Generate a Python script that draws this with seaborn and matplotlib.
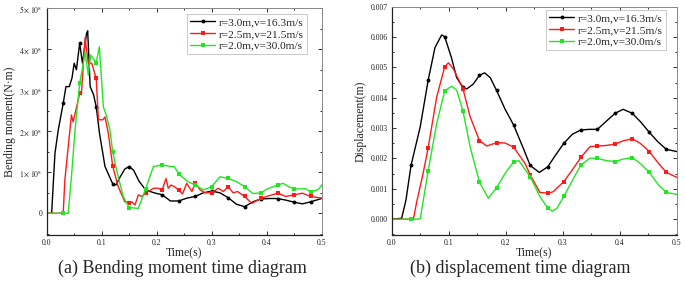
import numpy as np
import pandas as pd
import matplotlib
matplotlib.use("Agg")
import matplotlib.pyplot as plt
from matplotlib.ticker import MultipleLocator, FuncFormatter
import seaborn as sns

# ---------------- data ----------------
LABELS = ["r=3.0m,v=16.3m/s", "r=2.5m,v=21.5m/s", "r=2.0m,v=30.0m/s"]
COLORS = ["#000000", "#ff1a1a", "#22e622"]
MARKERS = ["o", "s", "s"]

# (a) bending moment, units of 1e8 N*m
bm_t_30 = [0, 0.009, 0.015, 0.021, 0.03, 0.035, 0.041, 0.046, 0.05, 0.054,
           0.06, 0.065, 0.0725, 0.0745, 0.079, 0.085, 0.09, 0.096, 0.106, 0.12,
           0.126, 0.132, 0.142, 0.15, 0.158, 0.168, 0.18, 0.195, 0.21, 0.225,
           0.24, 0.255, 0.27, 0.285, 0.30, 0.315, 0.33, 0.345, 0.36, 0.375,
           0.39, 0.405, 0.42, 0.435, 0.45, 0.465, 0.48, 0.5]
bm_v_30 = [0, 0, 1.46, 2.03, 2.68, 3.09, 3.09, 3.3, 3.66, 3.5,
           4.15, 3.66, 4.39, 4.45, 3.09, 2.9, 2.6, 1.95, 1.14, 0.72,
           0.69, 0.85, 1.08, 1.14, 1.05, 0.78, 0.57, 0.5, 0.45, 0.3,
           0.3, 0.37, 0.41, 0.5, 0.54, 0.5, 0.38, 0.22, 0.16, 0.28,
           0.35, 0.36, 0.36, 0.32, 0.27, 0.23, 0.28, 0.36]

bm_t_25 = [0, 0.03, 0.033, 0.041, 0.045, 0.048, 0.0545, 0.06, 0.063, 0.0697,
           0.0757, 0.082, 0.09, 0.094, 0.102, 0.106, 0.112, 0.12, 0.13, 0.142,
           0.15, 0.155, 0.1605, 0.1666, 0.173, 0.18, 0.194, 0.203, 0.21, 0.217,
           0.221, 0.226, 0.232, 0.24, 0.247, 0.2545, 0.264, 0.27, 0.279, 0.288,
           0.30, 0.312, 0.321, 0.33, 0.339, 0.347, 0.36, 0.373, 0.39, 0.40,
           0.42, 0.435, 0.45, 0.465, 0.48, 0.5]
bm_v_25 = [0, 0, 0.81, 1.87, 2.4, 2.23, 2.6, 2.93, 2.89, 4.28,
           3.66, 3.66, 3.29, 2.28, 2.28, 2.35, 1.95, 1.15, 0.65, 0.28,
           0.24, 0.28, 0.2, 0.45, 0.41, 0.49, 0.61, 0.61, 0.57, 0.85,
           0.61, 0.69, 0.65, 0.57, 0.47, 0.73, 0.53, 0.75, 0.57, 0.5,
           0.5, 0.61, 0.53, 0.65, 0.5, 0.53, 0.41, 0.24, 0.37, 0.41,
           0.49, 0.41, 0.45, 0.49, 0.41, 0.37]

bm_t_20 = [0, 0.03, 0.039, 0.045, 0.0515, 0.06, 0.0655, 0.0696, 0.0757, 0.08,
           0.09, 0.0957, 0.103, 0.109, 0.115, 0.12, 0.127, 0.139, 0.15, 0.1666,
           0.18, 0.194, 0.21, 0.225, 0.232, 0.24, 0.257, 0.27, 0.285, 0.30,
           0.315, 0.33, 0.345, 0.36, 0.375, 0.39, 0.40, 0.42, 0.43, 0.44,
           0.45, 0.47, 0.48, 0.494, 0.5]
bm_v_20 = [0, 0, 0, 0.89, 2.03, 3.17, 3.58, 3.94, 3.37, 3.86,
           3.67, 4.06, 2.6, 2.36, 2.03, 1.5, 1.06, 0.41, 0.14, 0.12,
           0.6, 1.14, 1.18, 1.14, 1.14, 0.96, 0.77, 0.69, 0.57, 0.65,
           0.89, 0.85, 0.77, 0.65, 0.48, 0.5, 0.59, 0.69, 0.73, 0.65,
           0.59, 0.6, 0.53, 0.58, 0.69]

bm_marks = [0.03, 0.06, 0.09, 0.12, 0.15, 0.18, 0.21, 0.24,
            0.27, 0.30, 0.33, 0.36, 0.39, 0.42, 0.45, 0.48]

# (b) displacement, units of 1e-3 m
d_t_30 = [0, 0.0175, 0.025, 0.034, 0.05, 0.064, 0.076, 0.0877, 0.093, 0.105,
          0.114, 0.125, 0.1316, 0.143, 0.154, 0.163, 0.173, 0.184, 0.199, 0.214,
          0.231, 0.243, 0.259, 0.274, 0.287, 0.302, 0.317, 0.332, 0.347, 0.361,
          0.376, 0.392, 0.406, 0.422, 0.437, 0.452, 0.467, 0.482, 0.5]
d_v_30 = [0, 0.03, 0.63, 1.78, 3.04, 4.58, 5.66, 6.07, 6.01, 5.31,
          4.66, 4.35, 4.29, 4.45, 4.74, 4.82, 4.66, 4.24, 3.62, 3.10,
          2.33, 1.77, 1.54, 1.73, 2.10, 2.5, 2.8, 2.94, 2.96, 2.96,
          3.22, 3.49, 3.62, 3.49, 3.2, 2.86, 2.55, 2.3, 2.23]

d_t_25 = [0, 0.034, 0.038, 0.044, 0.055, 0.064, 0.079, 0.093, 0.0994, 0.108,
          0.125, 0.1375, 0.154, 0.1667, 0.184, 0.199, 0.214, 0.2339, 0.243, 0.26,
          0.274, 0.283, 0.302, 0.319, 0.332, 0.348, 0.361, 0.377, 0.392, 0.406,
          0.422, 0.436, 0.452, 0.468, 0.482, 0.5]
d_v_25 = [0, 0, 0, 0.58, 1.5, 2.36, 4.03, 5.02, 5.15, 4.96,
          4.3, 3.38, 2.59, 2.41, 2.52, 2.51, 2.37, 1.84, 1.46, 0.88,
          0.86, 0.9, 1.24, 1.68, 2.04, 2.39, 2.41, 2.43, 2.48, 2.58,
          2.65, 2.5, 2.23, 1.84, 1.54, 1.38]

d_t_20 = [0, 0.034, 0.045, 0.05, 0.0555, 0.064, 0.079, 0.093, 0.105, 0.114,
          0.125, 0.1375, 0.154, 0.1696, 0.184, 0.199, 0.214, 0.223, 0.243, 0.26,
          0.274, 0.282, 0.29, 0.302, 0.319, 0.332, 0.348, 0.361, 0.377, 0.392,
          0.406, 0.422, 0.436, 0.452, 0.468, 0.482, 0.5]
d_v_20 = [0, 0, 0, 0.02, 0.63, 1.6, 3.16, 4.23, 4.38, 4.25,
          3.57, 2.39, 1.22, 0.69, 1.04, 1.51, 1.89, 1.93, 1.4, 0.75,
          0.36, 0.27, 0.36, 0.75, 1.35, 1.79, 2.01, 2.0, 1.93, 1.9,
          1.98, 2.03, 1.84, 1.54, 1.13, 0.88, 0.82]

d_marks = [0.034, 0.064, 0.093, 0.125, 0.154, 0.184, 0.214, 0.243,
           0.274, 0.302, 0.332, 0.361, 0.392, 0.422, 0.452, 0.482]

# ---------------- style ----------------
sns.set_theme(style="ticks")
plt.rcParams["font.family"] = ["Liberation Serif", "DejaVu Serif"]
plt.rcParams["mathtext.fontset"] = "stix"
plt.rcParams["xtick.direction"] = "in"
plt.rcParams["ytick.direction"] = "in"

fig = plt.figure(figsize=(6.85, 2.89), dpi=100)
W, H = 685, 289
ax1 = fig.add_axes([46.7 / W, 1 - 235 / H, 275 / W, (235 - 8.3) / H])
ax2 = fig.add_axes([391.7 / W, 1 - 235 / H, 285 / W, (235 - 6.7) / H])


def draw(ax, series, marks, scale):
    for (t, v), lab, col, mk in zip(series, LABELS, COLORS, MARKERS):
        df = pd.DataFrame({"t": t, "v": np.asarray(v) * scale})
        idx = [i for i, x in enumerate(t) if np.any(np.isclose(x, marks))]
        sns.lineplot(data=df, x="t", y="v", ax=ax, color=col, lw=1.0,
                     marker=mk, markersize=2.8, markeredgewidth=0,
                     markevery=idx, label=lab, sort=False, estimator=None)


draw(ax1, [(bm_t_30, bm_v_30), (bm_t_25, bm_v_25), (bm_t_20, bm_v_20)], bm_marks, 1e8)
draw(ax2, [(d_t_30, d_v_30), (d_t_25, d_v_25), (d_t_20, d_v_20)], d_marks, 1e-3)

LEG_ANCHOR = {0: (0.9465, 0.975), 1: (0.9625, 0.9855)}
for k, ax in enumerate((ax1, ax2)):
    ax.set_xlim(0, 0.5)
    ax.xaxis.set_major_locator(MultipleLocator(0.1))
    ax.xaxis.set_minor_locator(MultipleLocator(0.05))
    ax.xaxis.set_major_formatter(FuncFormatter(lambda x, p: f"{x:.1f}"))
    ax.tick_params(which="both", top=True, right=True, labelsize=5.6,
                   width=0.7, pad=3, colors="#333333", labelcolor="#222222")
    ax.tick_params(which="major", length=3)
    ax.tick_params(which="minor", length=1.6)
    for s in ("left", "bottom"):
        ax.spines[s].set_color("#222222")
        ax.spines[s].set_linewidth(0.9)
    for s in ("top", "right"):
        ax.spines[s].set_color("#888888")
        ax.spines[s].set_linewidth(0.7)
    ax.set_xlabel("Time(s)", fontsize=8.5, labelpad=0)
    leg = ax.legend(loc="upper right", bbox_to_anchor=LEG_ANCHOR[k],
                    fontsize=8.2, frameon=True, fancybox=False,
                    handlelength=2.2, handletextpad=0.3, borderpad=0.3,
                    labelspacing=0.15, borderaxespad=0)
    leg.get_frame().set_edgecolor("#bbbbbb")
    leg.get_frame().set_linewidth(0.7)

ax1.set_ylim(-0.53e8, 5e8)
ax1.yaxis.set_major_locator(MultipleLocator(1e8))
ax1.yaxis.set_minor_locator(MultipleLocator(0.5e8))
ax1.yaxis.set_major_formatter(FuncFormatter(
    lambda y, p: "0" if abs(y) < 1 else rf"${y / 1e8:.0f}\times10^{{8}}$"))
ax1.set_ylabel("Bending moment(N·m)", fontsize=8.5, labelpad=2)

ax2.set_ylim(-0.00052, 0.007)
ax2.yaxis.set_major_locator(MultipleLocator(0.001))
ax2.yaxis.set_minor_locator(MultipleLocator(0.0005))
ax2.yaxis.set_major_formatter(FuncFormatter(lambda y, p: f"{y:.3f}"))
ax2.set_ylabel("Displacement(m)", fontsize=8.5, labelpad=3)

fig.text(182 / W, 1 - 268 / H, "(a) Bending moment time diagram",
         ha="center", va="center", fontsize=13)
fig.text(520 / W, 1 - 268 / H, "(b) displacement time diagram",
         ha="center", va="center", fontsize=13)

fig.savefig("out.png", dpi=100)
